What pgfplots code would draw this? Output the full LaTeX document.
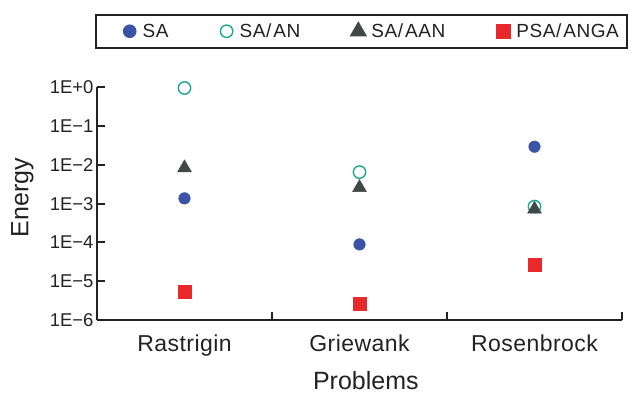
\documentclass[border=0pt]{standalone}
\usepackage{fontspec}
\setmainfont{Liberation Sans}
\usepackage{pgfplots}
\pgfplotsset{compat=1.18}
\definecolor{cSA}{HTML}{3B54A5}
\definecolor{cAN}{HTML}{1AA88C}
\definecolor{cAAN}{HTML}{404848}
\definecolor{cPSA}{HTML}{E8282A}
\definecolor{axc}{HTML}{222222}
\begin{document}
\begin{tikzpicture}
\useasboundingbox (0,0) rectangle (635bp,393bp);
\begin{axis}[
  at={(97bp,73bp)}, anchor=south west,
  scale only axis, width=525bp, height=232.7bp,
  xmin=0, xmax=3, ymode=log, ymin=1e-6, ymax=1,
  clip=false,
  axis x line=bottom, axis y line=left,
  axis line style={-, line width=2.4bp, color=axc},
  tick align=inside,
  major tick length=8bp,
  every tick/.style={line width=2bp, color=axc},
  minor tick num=0,
  xtick={1,2,3}, xticklabels={},
  extra x ticks={0.5,1.5,2.5},
  extra x tick labels={Rastrigin,Griewank,Rosenbrock},
  extra x tick style={major tick length=0pt, xticklabel style={yshift=-11bp}},
  xticklabel style={font=\fontsize{23bp}{26bp}\selectfont\addfontfeature{LetterSpace=2}, color=axc},
  ytick={1e-6,1e-5,1e-4,1e-3,1e-2,1e-1,1},
  yticklabels={1E−6,1E−5,1E−4,1E−3,1E−2,1E−1,1E+0},
  yticklabel style={font=\fontsize{18.5bp}{21bp}\selectfont, color=axc},
  log basis y=10,
  xlabel={Problems}, ylabel={Energy},
  every axis x label/.style={at={(axis description cs:0.512,0)}, anchor=base, yshift=-69bp, font=\fontsize{25bp}{28bp}\selectfont, color=axc},
  every axis y label/.style={at={(axis description cs:0,0.5)}, xshift=-68.7bp, yshift=6bp, rotate=90, anchor=base, font=\fontsize{25bp}{28bp}\selectfont, color=axc},
  legend columns=4,
  legend style={at={(axis description cs:-0.0038,1.315)}, anchor=north west,
    draw=axc, line width=2bp, inner xsep=2bp, inner ysep=3bp,
    font=\fontsize{19bp}{21bp}\selectfont\addfontfeature{LetterSpace=3}, text=axc,
    nodes={text height=13.5bp, text depth=1bp, inner ysep=6bp, inner xsep=6bp},
    /tikz/every even column/.append style={column sep=45bp}},
  legend image code/.code={\path[draw=none,fill=none] (-7bp,-7bp) rectangle (7bp,7bp); \draw[#1, only marks] plot coordinates {(0bp,0bp)};},
]
\addplot[only marks, mark=*, mark size=5.8bp, color=cSA, mark options={fill=cSA, draw=cSA},
  legend image code/.code={\path[draw=none,fill=none] (-31.7bp,-7bp) rectangle (7bp,7bp); \draw[##1, only marks] plot coordinates {(0bp,0bp)};}]
  coordinates {(0.5,1.37e-3) (1.5,8.9e-5) (2.5,2.94e-2)};
\addlegendentry{SA}
\addplot[only marks, mark=o, mark size=6.2bp, color=cAN, mark options={line width=1.4bp, fill=none}]
  coordinates {(0.5,0.96) (1.5,6.5e-3) (2.5,8.4e-4)};
\addlegendentry{SA/\kern2bp AN}
\addplot[only marks, mark=triangle*, mark size=8bp, color=cAAN, mark options={fill=cAAN, draw=none}]
  coordinates {(0.5,8.4e-3) (1.5,2.6e-3) (2.5,7.2e-4)};
\addlegendentry{SA/\kern2bp AAN}
\addplot[only marks, mark=square*, mark size=6.3bp, color=cPSA, mark options={fill=cPSA, draw=none}]
  coordinates {(0.5,5.3e-6) (1.5,2.6e-6) (2.5,2.7e-5)};
\addlegendentry{PSA/\kern2bp ANGA}
\end{axis}
\end{tikzpicture}
\end{document}
